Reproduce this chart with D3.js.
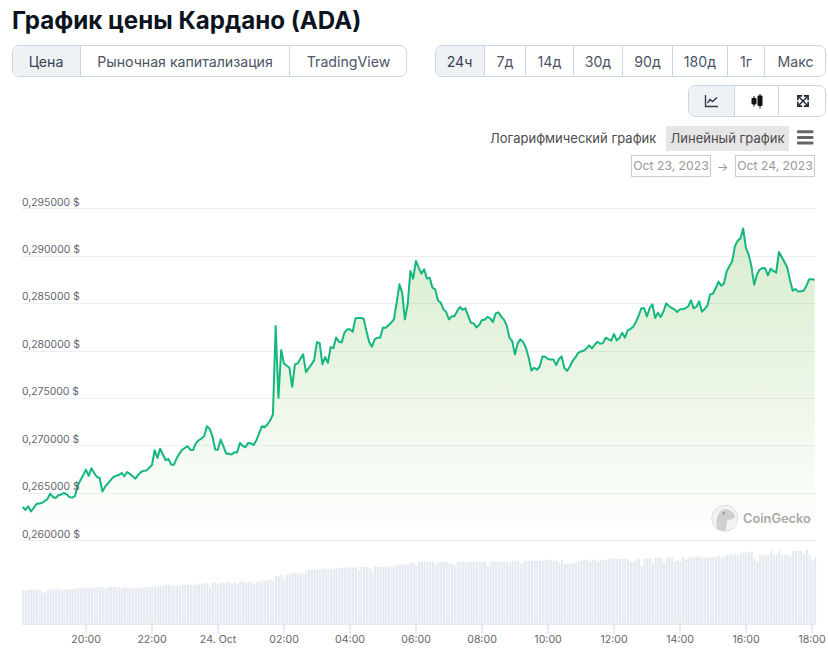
<!DOCTYPE html>
<html lang="ru"><head><meta charset="utf-8">
<script src="https://cdn.jsdelivr.net/npm/d3@7"></script>
<style>
html,body{margin:0;padding:0;background:#fff;overflow:hidden}
body{width:828px;height:670px;position:relative;font-family:Inter,"Noto Sans",sans-serif}
#title{position:absolute;left:12px;top:6px;font-size:24.15px;font-weight:700;color:#0d1421;line-height:30px;white-space:nowrap}
.grp{position:absolute;box-sizing:border-box;border:1px solid #c9d6e8;border-radius:7px;overflow:hidden;background:#fff}
.btn{position:absolute;top:0;bottom:0;box-sizing:border-box;display:flex;align-items:center;justify-content:center;font-size:14.15px;color:#4b5565;border-right:1px solid #c9d6e8;white-space:nowrap}
.btn:last-child{border-right:none}
.btn.on{background:#eff2f5;color:#364152}
.txt{position:absolute;font-size:13px;color:#4b4b4b;white-space:nowrap;line-height:25px}
.date{position:absolute;box-sizing:border-box;border:1px solid #ccc;color:#999;font-size:12.2px;text-align:center;line-height:19px;top:155px;height:22px;white-space:nowrap}
svg{position:absolute;left:0;top:0}
</style></head><body>
<div id="title">График цены Кардано (ADA)</div>
<div id="ui"></div>
<svg id="chart" width="828" height="670"></svg>
<script>
const titleText = "График цены Кардано (ADA)";
const tabLabels = ["Цена","Рыночная капитализация","TradingView"];
const rangeLabels = ["24ч","7д","14д","30д","90д","180д","1г","Макс"];
const scaleLabels = ["Логарифмический график","Линейный график"];
const dateLabels = ["Oct 23, 2023","Oct 24, 2023"];
const tickTimes = ["2023-10-23T20:00Z","2023-10-23T22:00Z","2023-10-24T00:00Z","2023-10-24T02:00Z","2023-10-24T04:00Z","2023-10-24T06:00Z","2023-10-24T08:00Z","2023-10-24T10:00Z","2023-10-24T12:00Z","2023-10-24T14:00Z","2023-10-24T16:00Z","2023-10-24T18:00Z"];
const tickLabels = ["20:00","22:00","24. Oct","02:00","04:00","06:00","08:00","10:00","12:00","14:00","16:00","18:00"];
const priceTicks = [0.26,0.265,0.27,0.275,0.28,0.285,0.29,0.295];
const prices = [
.26357,.26325,.26363,.26310,.26345,.26388,.26393,.26398,.26420,.26440,
.26497,.26462,.26451,.26480,.26488,.26505,.26490,.26462,.26455,.26470,
.26580,.26640,.26690,.26750,.26685,.26765,.26715,.26672,.26662,.26520,
.26570,.26605,.26640,.26673,.26685,.26694,.26715,.26680,.26725,.26705,
.26680,.26655,.26695,.26725,.26738,.26740,.26770,.26796,.26955,.26874,
.26972,.26910,.26849,.26863,.26803,.26803,.26870,.26919,.26960,.26980,
.26997,.26958,.26958,.27030,.27060,.27078,.27102,.27208,.27180,.27105,
.26962,.26960,.27067,.26995,.26919,.26920,.26909,.26933,.26930,.27032,
.27000,.26986,.27032,.27028,.27011,.27060,.27135,.27208,.27197,.27226,
.27271,.27331,.28264,.27507,.28011,.27870,.27845,.27824,.27623,.27859,
.27870,.27920,.27965,.27778,.27820,.27860,.27905,.28095,.28084,.27859,
.27937,.27877,.28042,.28032,.28144,.28099,.28092,.28194,.28229,.28229,
.28204,.28345,.28348,.28348,.28341,.28211,.28095,.28046,.28123,.28141,
.28141,.28246,.28246,.28271,.28299,.28334,.28510,.28704,.28616,.28334,
.28493,.28845,.28764,.28950,.28880,.28817,.28862,.28764,.28774,.28669,
.28651,.28535,.28510,.28440,.28412,.28334,.28366,.28366,.28422,.28465,
.28436,.28451,.28370,.28299,.28292,.28250,.28275,.28327,.28331,.28359,
.28348,.28306,.28398,.28408,.28363,.28331,.28271,.28141,.28106,.27965,
.28081,.28123,.28095,.28035,.27930,.27796,.27824,.27803,.27835,.27944,
.27940,.27916,.27912,.27912,.27852,.27916,.27944,.27820,.27792,.27838,
.27898,.27933,.27982,.27996,.28004,.28028,.28060,.28028,.28067,.28099,
.28077,.28084,.28141,.28127,.28109,.28180,.28113,.28137,.28194,.28141,
.28218,.28232,.28257,.28306,.28377,.28451,.28451,.28366,.28454,.28493,
.28348,.28405,.28359,.28415,.28503,.28475,.28454,.28440,.28412,.28440,
.28440,.28451,.28472,.28535,.28451,.28468,.28524,.28415,.28444,.28479,
.28598,.28605,.28662,.28732,.28690,.28711,.28841,.28894,.28947,.29105,
.29165,.29186,.29292,.29088,.29017,.28894,.28700,.28806,.28859,.28876,
.28873,.28799,.28869,.28845,.28827,.29045,.28993,.28940,.28884,.28753,
.28637,.28655,.28627,.28630,.28637,.28690,.28757,.28757,.28753];
const volumes = [
100,98,100,100,100,100,100,94,90,99,
100,102,100,102,99,102,102,102,102,102,
105,105,105,105,105,107,105,108,108,108,
103,108,108,108,108,108,103,108,105,103,
105,105,105,105,108,108,108,109,110,108,
112,112,115,115,112,112,113,112,115,115,
115,115,115,115,118,118,118,121,106,121,
121,115,121,121,121,124,116,121,118,124,
124,121,124,124,118,124,124,127,127,127,
130,126,141,141,145,133,145,148,151,151,
151,148,148,157,160,160,160,160,160,163,
163,163,163,163,163,166,166,166,166,168,
166,168,157,169,169,169,166,154,169,169,
169,169,169,169,166,172,174,174,174,176,
176,181,181,172,184,184,184,184,184,184,
175,184,184,184,184,178,178,172,184,184,
184,181,184,184,184,184,184,184,184,172,
184,187,184,184,184,184,184,181,187,187,
187,178,184,187,187,187,187,187,187,187,
190,190,187,187,187,181,190,178,178,178,
178,181,187,187,190,190,184,190,190,184,
190,187,190,193,193,193,193,193,193,193,
193,184,184,190,193,172,193,193,193,181,
196,196,196,181,196,196,196,184,187,185,
199,190,196,199,199,199,199,196,196,196,
199,199,199,202,196,199,205,205,205,208,
205,211,211,211,214,214,193,184,205,202,
205,205,217,205,205,217,202,205,205,202,
217,217,217,217,205,220,202,187,196];

// ---------- interface ----------
const ui = d3.select("#ui");
function group(labels, box, edges, active){
  const g = ui.append("div").attr("class","grp").style("left",box[0]+"px").style("top",box[1]+"px")
    .style("width",(box[2]-box[0])+"px").style("height",(box[3]-box[1])+"px");
  labels.forEach((l,i)=>{
    g.append("div").attr("class","btn"+(i===active?" on":""))
     .style("left",(edges[i]-box[0]-1)+"px").style("width",(edges[i+1]-edges[i])+"px").html(l);
  });
}
group(tabLabels,[12,45,407,77],[12,81,290,407],0);
group(rangeLabels,[435,45,826,77],[435,485,526,574,623,673,728,765,826],0);
const I = (s)=>`<svg style="position:static" width="16" height="16" viewBox="0 0 16 16">${s}</svg>`;
group([
 I('<path d="M2.5 2V13.5H15" fill="none" stroke="#2f3a4a" stroke-width="1.4"/><path d="M4.5 10L7 6.5L9.5 8.5L14 4.5" fill="none" stroke="#2f3a4a" stroke-width="1.4"/>'),
 I('<path d="M5 3V13.5M11 1V15.5" stroke="#111" stroke-width="1"/><rect x="2.5" y="5" width="5" height="6.5" rx="1" fill="#111"/><rect x="8.5" y="2.5" width="5" height="10.5" rx="1" fill="#111"/>'),
 I('<g transform="translate(8,8) scale(.85) translate(-8,-8)"><path d="M3 3L13 13M13 3L3 13" stroke="#1a2433" stroke-width="1.6"/><path d="M2 7V2H7M9 2H14V7M14 9V14H9M7 14H2V9" fill="none" stroke="#1a2433" stroke-width="1.9"/></g>')
],[688,85,826,117],[688,735,779,826],0);
ui.append("div").attr("class","txt").style("left","490px").style("top","126px").text(scaleLabels[0]);
ui.append("div").attr("class","txt").style("left","666px").style("top","126px").style("width","123px").style("height","25px")
  .style("background","#e6e6e6").style("text-align","center").text(scaleLabels[1]);
ui.append("div").attr("class","date").style("left","631px").style("width","80px").text(dateLabels[0]);
ui.append("div").attr("class","date").style("left","735px").style("width","80px").text(dateLabels[1]);
ui.append("div").attr("class","txt").style("left","717px").style("top","154px").style("color","#999").style("font-size","12px").text("→");

// ---------- chart ----------
const svg = d3.select("#chart");
const t0 = Date.UTC(2023,9,23,18,5,40), step = 300000;
const times = prices.map((_,i)=>new Date(t0+i*step));
const x = d3.scaleUtc().domain([times[0],times[times.length-1]]).range([22.67,814.67]);
const y = d3.scaleLinear().domain([0.26,0.295]).range([540.8,208.8]);
const yVol = d3.scaleLinear().domain([0,220]).range([623,549.7]);

const defs = svg.append("defs");
const grad = defs.append("linearGradient").attr("id","fill").attr("gradientUnits","userSpaceOnUse")
  .attr("x1",0).attr("x2",0).attr("y1",y(0.2925)).attr("y2",y(0.26));
grad.append("stop").attr("offset",0).attr("stop-color","#7fc25a").attr("stop-opacity",.30);
grad.append("stop").attr("offset",1).attr("stop-color","#7fc25a").attr("stop-opacity",0);

// grid
svg.append("g").selectAll("line").data(priceTicks).join("line")
  .attr("x1",22).attr("x2",816).attr("y1",d=>Math.floor(y(d))+.5).attr("y2",d=>Math.floor(y(d))+.5)
  .attr("stroke","#eceef6").attr("stroke-width",1);

// volume bars
svg.append("g").selectAll("rect").data(volumes).join("rect")
  .attr("x",(d,i)=>x(times[i])-.6).attr("width",2.1)
  .attr("y",d=>yVol(d)).attr("height",d=>yVol(0)-yVol(d)).attr("fill","#e5e9f0");

// area + line
const idx = d3.range(prices.length);
svg.append("path").datum(idx).attr("fill","url(#fill)")
  .attr("d",d3.area().x(i=>x(times[i])).y0(y(0.26)).y1(i=>y(prices[i])));
svg.append("path").datum(idx).attr("fill","none").attr("stroke","#14b77f").attr("stroke-width",2)
  .attr("stroke-linejoin","round").attr("d",d3.line().x(i=>x(times[i])).y(i=>y(prices[i])));

// y labels
svg.append("g").selectAll("text").data(priceTicks).join("text")
  .attr("x",22).attr("y",d=>y(d)-3.2).attr("font-size",10.4).attr("fill","#5f6672")
  .text(d=>d3.format(".6f")(d).replace(".",",")+" $");

// x axis
const axis = d3.axisBottom(x).tickValues(tickTimes.map(s=>new Date(s)))
  .tickFormat((d,i)=>tickLabels[i]).tickSize(10).tickPadding(1.5);
const gx = svg.append("g").attr("transform","translate(0,623.5)").call(axis);
gx.select(".domain").attr("d","M22,0.5H816").attr("stroke","#ccd6eb");
gx.selectAll(".tick line").attr("stroke","#ccd6eb");
gx.selectAll(".tick text").attr("font-size",10.6).attr("font-family","Inter,sans-serif").attr("fill","#666");

// hamburger
svg.append("g").selectAll("rect").data([0,1,2]).join("rect")
  .attr("x",797).attr("width",16.5).attr("height",3).attr("rx",1).attr("y",d=>130.3+d*5.6).attr("fill","#666");

// watermark
const wm = svg.append("g").attr("transform","translate(724.7,518.3)");
wm.append("circle").attr("r",13).attr("fill","#f3f3f3").attr("stroke","#dcdcdc");
wm.append("path").attr("d","M-8,10C-9,2 -7,-8 0,-9C6,-9 10,-5 10,-2C10,1 5,1 3,2C1,5 2,9 1,12C-3,13 -6,12 -8,10Z").attr("fill","#cfcfcf");
wm.append("circle").attr("cx",-1).attr("cy",-5).attr("r",1.2).attr("fill","#999");
svg.append("text").attr("x",743).attr("y",522.5).attr("font-size",12.8).attr("font-weight",600).attr("fill","#a9a9a9").text("CoinGecko");
</script>
</body></html>
